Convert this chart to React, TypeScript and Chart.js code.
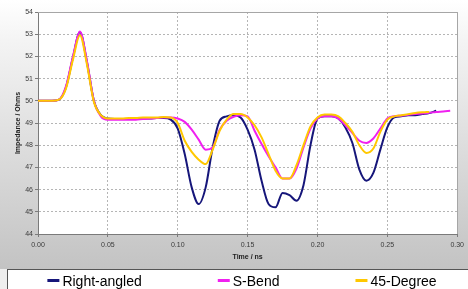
import React, { useEffect, useRef } from 'react';
import { Chart, registerables } from 'chart.js';

Chart.register(...registerables);

const times = [
  0.0, 0.005, 0.01, 0.015, 0.02, 0.025, 0.03, 0.035, 0.04, 0.045,
  0.05, 0.055, 0.06, 0.065, 0.07, 0.075, 0.08, 0.085, 0.09, 0.095,
  0.1, 0.105, 0.11, 0.115, 0.12, 0.125, 0.13, 0.135, 0.14, 0.145,
  0.15, 0.155, 0.16, 0.165, 0.17, 0.175, 0.18, 0.185, 0.19, 0.195,
  0.2, 0.205, 0.21, 0.215, 0.22, 0.225, 0.23, 0.235, 0.24, 0.245,
  0.25, 0.255, 0.26, 0.265, 0.27, 0.275, 0.28, 0.285, 0.29, 0.295,
];

const rightAngled = [
  50, 50, 50, 50.05, 50.6, 51.95, 53.1, 51.75, 50.0, 49.35,
  49.2, 49.18, 49.18, 49.18, 49.2, 49.2, 49.2, 49.22, 49.22, 49.15,
  48.75, 47.6, 46.1, 45.35, 46.1, 47.9, 49.1, 49.3, 49.35, 49.25,
  48.7, 47.8, 46.4, 45.35, 45.2, 45.85, 45.75, 45.5, 46.2, 48.0,
  49.2, 49.3, 49.3, 49.2, 48.8, 48.1, 46.9, 46.4, 46.75, 47.8,
  48.8, 49.25, 49.3, 49.35, 49.35, 49.4, 49.45, 49.55,
];

const sBend = [
  50, 50, 50, 50.05, 50.65, 52.0, 53.12, 51.8, 50.0, 49.3,
  49.15, 49.15, 49.15, 49.15, 49.15, 49.18, 49.2, 49.22, 49.25, 49.25,
  49.2, 49.05, 48.7, 48.25, 47.8, 47.9, 48.7, 49.1, 49.28, 49.35,
  49.3, 48.65, 48.05, 47.5, 47.0, 46.5, 46.5, 46.95, 47.9, 48.75,
  49.2, 49.3, 49.3, 49.2, 48.9, 48.55, 48.2, 48.1, 48.3, 48.75,
  49.2, 49.3, 49.33, 49.37, 49.4, 49.43, 49.46, 49.5, 49.52, 49.55,
];

const degree45 = [
  50, 50, 50, 50.05, 50.55, 51.85, 52.95, 51.65, 49.95, 49.35,
  49.2, 49.2, 49.2, 49.22, 49.22, 49.25, 49.25, 49.25, 49.27, 49.25,
  49.0, 48.2, 47.7, 47.35, 47.15, 47.8, 48.65, 49.15, 49.4, 49.4,
  49.25, 48.9, 48.35, 47.6, 46.85, 46.5, 46.5, 47.1, 48.0, 48.85,
  49.25, 49.38, 49.38, 49.3, 49.0, 48.6, 48.0, 47.65, 47.85, 48.6,
  49.15, 49.3, 49.35, 49.4, 49.45, 49.48, 49.5,
];

const seriesLabels = ['Right-angled', 'S-Bend', '45-Degree'];
const seriesColors = ['#16167a', '#f020f0', '#ffc800'];
const xTickLabels = ['0.00', '0.05', '0.10', '0.15', '0.20', '0.25', '0.30'];
const yTickLabels = ['44', '45', '46', '47', '48', '49', '50', '51', '52', '53', '54'];
const xTitle = 'Time / ns';
const yTitle = 'Impedance / Ohms';

const FONT = "'Liberation Sans', Arial, sans-serif";

const toPoints = (vals: number[]) => vals.map((v, i) => ({ x: times[i], y: v }));

const backgroundPlugin = {
  id: 'excelBackground',
  beforeDraw(chart: any) {
    const { ctx, width, height, chartArea: a } = chart;
    ctx.save();
    const g = ctx.createLinearGradient(0, 0, 0, 269);
    g.addColorStop(0, '#ffffff');
    g.addColorStop(0.15, '#f4f4f4');
    g.addColorStop(1, '#c3c3c3');
    ctx.fillStyle = g;
    ctx.fillRect(0, 0, width, 269);
    ctx.fillStyle = '#eeeeee';
    ctx.fillRect(0, 269, width, height - 269);
    ctx.fillStyle = '#ffffff';
    ctx.fillRect(a.left, a.top, a.right - a.left, a.bottom - a.top);
    ctx.restore();
  },
  beforeDatasetsDraw(chart: any) {
    const { ctx, chartArea: a } = chart;
    ctx.save();
    ctx.strokeStyle = '#a6a6a6';
    ctx.lineWidth = 1;
    const r = Math.round(a.right) + 0.5;
    const t = Math.round(a.top) + 0.5;
    ctx.beginPath();
    ctx.moveTo(a.left, t);
    ctx.lineTo(r, t);
    ctx.lineTo(r, a.bottom);
    ctx.stroke();
    ctx.restore();
  },
};

const legendPlugin = {
  id: 'excelLegend',
  afterDraw(chart: any) {
    const { ctx, width, height } = chart;
    const boxLeft = 7.5;
    const boxTop = 269.5;
    ctx.save();
    ctx.fillStyle = '#ffffff';
    ctx.fillRect(boxLeft, boxTop, width + 20, height);
    ctx.strokeStyle = '#555555';
    ctx.lineWidth = 1;
    ctx.strokeRect(boxLeft, boxTop, width + 20, height);

    ctx.font = `14px ${FONT}`;
    const marker = 12;
    const textGap = 3;
    const itemGap = 76;
    const items = chart.data.datasets.map((ds: any) => ({
      label: ds.label,
      color: ds.borderColor,
      w: marker + textGap + ctx.measureText(ds.label).width,
    }));
    const total = items.reduce((s: number, it: any) => s + it.w, 0) + itemGap * (items.length - 1);
    let x = 242 - total / 2;
    const markerY = 280.5;
    const baseY = 286;
    items.forEach((it: any) => {
      ctx.strokeStyle = it.color;
      ctx.lineWidth = 3;
      ctx.beginPath();
      ctx.moveTo(x, markerY);
      ctx.lineTo(x + marker, markerY);
      ctx.stroke();
      ctx.fillStyle = '#000000';
      ctx.textBaseline = 'alphabetic';
      ctx.textAlign = 'left';
      ctx.fillText(it.label, x + marker + textGap, baseY);
      x += it.w + itemGap;
    });
    ctx.restore();
  },
};

export default function App() {
  const canvasRef = useRef<HTMLCanvasElement | null>(null);

  useEffect(() => {
    document.body.style.margin = '0';
    const canvas = canvasRef.current;
    if (!canvas) return;
    const seriesValues = [rightAngled, sBend, degree45];
    const chart = new Chart(canvas, {
      type: 'line',
      data: {
        datasets: seriesValues.map((vals, i) => ({
          label: seriesLabels[i],
          data: toPoints(vals),
          borderColor: seriesColors[i],
          backgroundColor: seriesColors[i],
          borderWidth: 2,
          pointRadius: 0,
          fill: false,
          cubicInterpolationMode: 'monotone' as const,
          order: 3 - i,
        })),
      },
      options: {
        responsive: false,
        animation: false,
        layout: { padding: { left: 0, right: 6, top: 12, bottom: 0 } },
        plugins: {
          legend: { display: false },
          tooltip: { enabled: false },
        },
        scales: {
          x: {
            type: 'linear',
            min: 0,
            max: 0.3,
            afterFit: (s: any) => { s.height = 55; },
            ticks: {
              stepSize: 0.05,
              autoSkip: false,
              maxRotation: 0,
              padding: 4,
              color: '#3a3a3a',
              font: { family: FONT, size: 7 },
              callback: (_v: any, i: number) => xTickLabels[i] ?? '',
            },
            grid: { color: '#b5b5b5', tickColor: '#7a7a7a', tickLength: 3, lineWidth: 1 },
            border: { color: '#7a7a7a', width: 1, dash: [2, 2] },
            title: {
              display: true,
              text: xTitle,
              color: '#222',
              font: { family: FONT, size: 7, weight: 'bold' },
              padding: { top: 0, bottom: 28 },
            },
          },
          y: {
            type: 'linear',
            min: 44,
            max: 54,
            afterFit: (s: any) => { s.width = 38; },
            ticks: {
              stepSize: 1,
              padding: 2,
              color: '#3a3a3a',
              font: { family: FONT, size: 7 },
              callback: (_v: any, i: number) => yTickLabels[i] ?? '',
            },
            grid: { color: '#b5b5b5', tickColor: '#7a7a7a', tickLength: 3, lineWidth: 1 },
            border: { color: '#7a7a7a', width: 1, dash: [2, 2] },
            title: {
              display: true,
              text: yTitle,
              color: '#222',
              font: { family: FONT, size: 7, weight: 'bold' },
              padding: { top: 14, bottom: 0 },
            },
          },
        },
      },
      plugins: [backgroundPlugin, legendPlugin],
    });
    return () => chart.destroy();
  }, []);

  return (
    <div style={{ position: 'absolute', left: 0, top: 0, width: 468, height: 289 }}>
      <canvas ref={canvasRef} width={468} height={289} style={{ display: 'block' }} />
    </div>
  );
}
